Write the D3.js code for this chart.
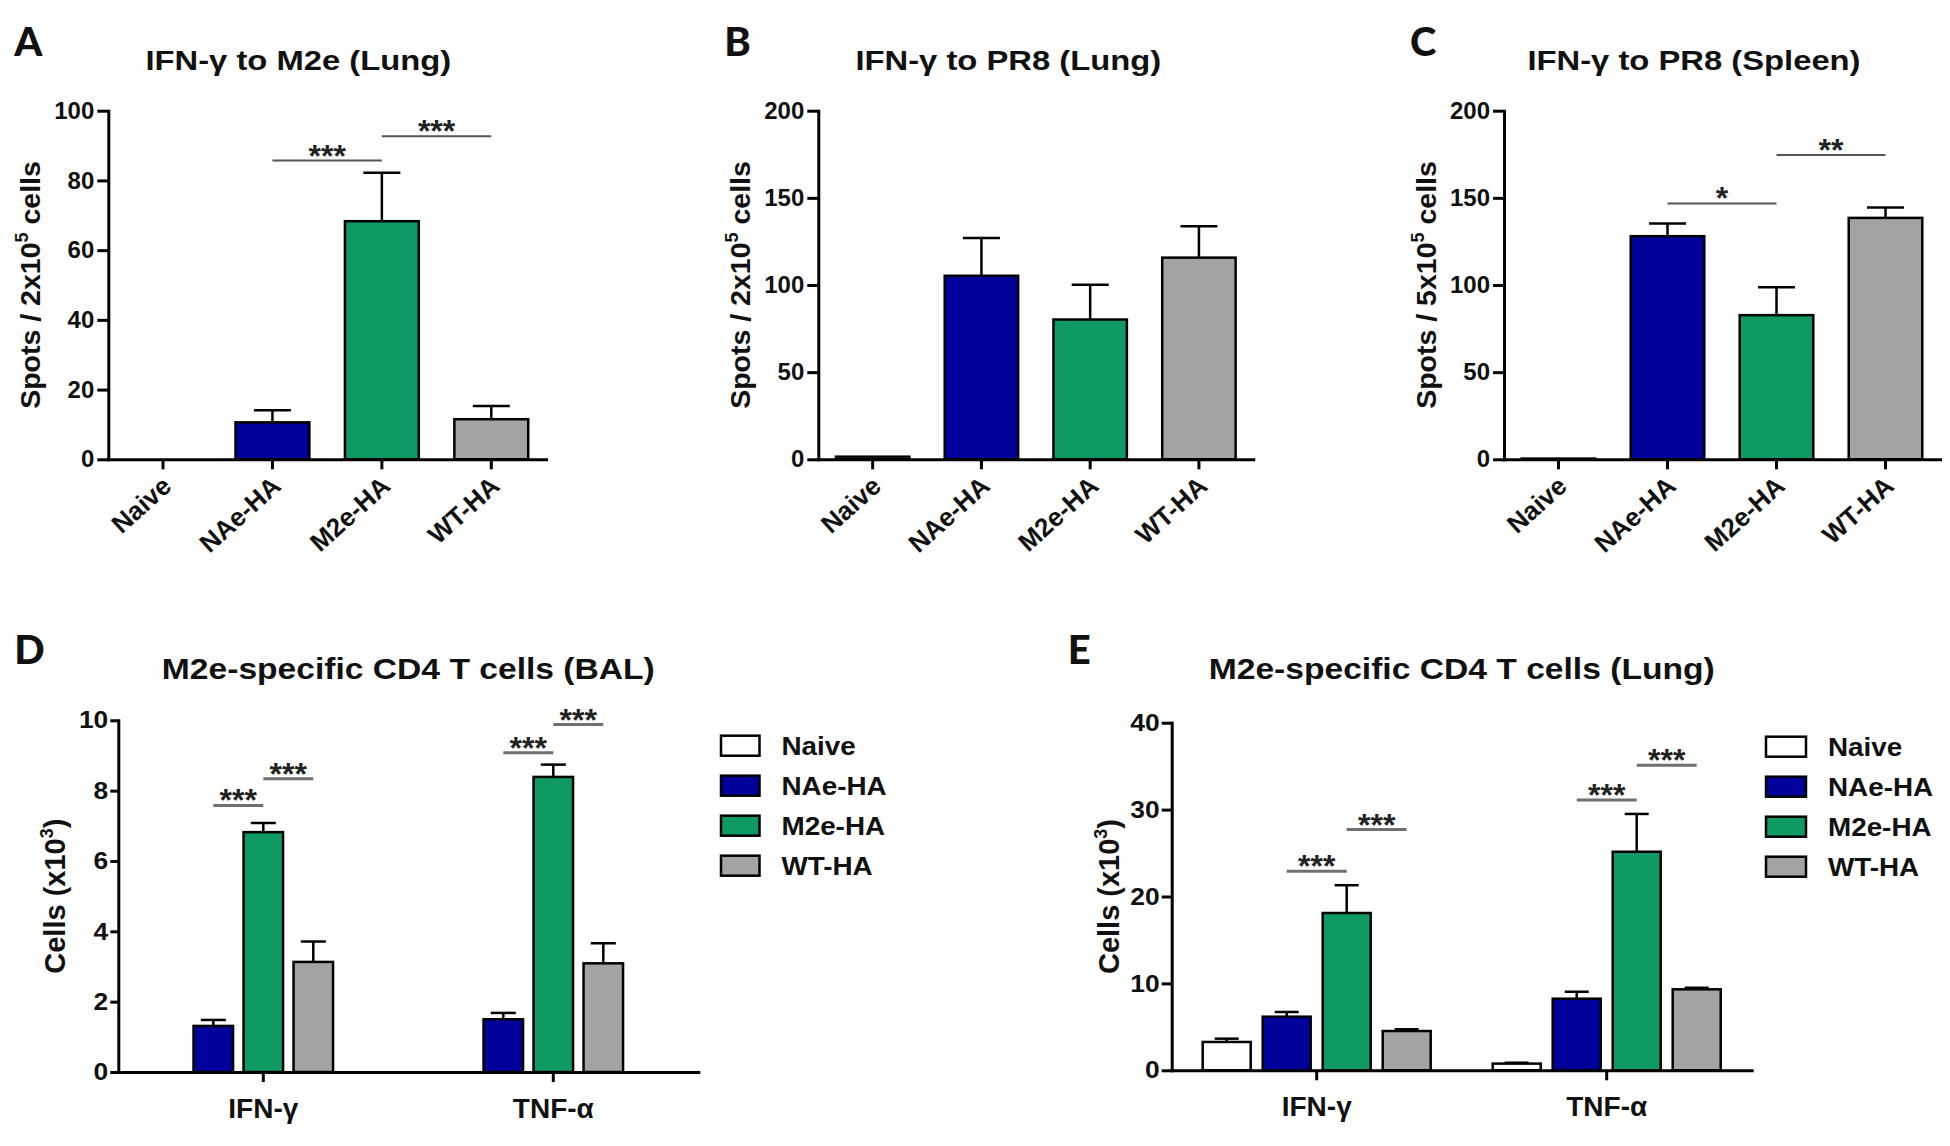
<!DOCTYPE html>
<html>
<head>
<meta charset="utf-8">
<script src="https://cdn.jsdelivr.net/npm/d3@7"></script>
<style>
  body { margin: 0; background: #fff; }
  text { font-family: 'Liberation Sans', Arial, sans-serif; font-weight: bold; fill: #111; }
</style>
</head>
<body>
<svg id="fig"></svg>
<script>
// groups and colours shared by every panel
const groups = ['Naive', 'NAe-HA', 'M2e-HA', 'WT-HA'];
const groupColors = ['#ffffff', '#00009b', '#0f9a63', '#a3a3a6'];
const cytokines = ['IFN-γ', 'TNF-α'];

// A: IFN-g to M2e (Lung)
const aMean = [0, 10.6, 68.3, 11.5];
const aSem = [0, 3.5, 13.9, 3.8];
const aSig = [
  { from: 'NAe-HA', to: 'M2e-HA', level: 85.7, stars: '***' },
  { from: 'M2e-HA', to: 'WT-HA', level: 92.7, stars: '***' }
];

// B: IFN-g to PR8 (Lung)
const bMean = [1.5, 105.3, 80.2, 115.7];
const bSem = [0.6, 21.6, 20.0, 18.0];

// C: IFN-g to PR8 (Spleen)
const cMean = [0.4, 128.0, 82.7, 138.5];
const cSem = [0.2, 7.3, 16.0, 6.0];
const cSig = [
  { from: 'NAe-HA', to: 'M2e-HA', level: 146.8, stars: '*' },
  { from: 'M2e-HA', to: 'WT-HA', level: 174.6, stars: '**' }
];

// D: M2e-specific CD4 T cells (BAL) - no naive bars
const dSeries = ['NAe-HA', 'M2e-HA', 'WT-HA'];
const dMean = [[1.31, 6.82, 3.13], [1.50, 8.39, 3.09]];
const dSem = [[0.17, 0.26, 0.58], [0.18, 0.35, 0.57]];
const dSig = [
  { cyto: 'IFN-γ', from: 'NAe-HA', to: 'M2e-HA', level: 7.58, stars: '***' },
  { cyto: 'IFN-γ', from: 'M2e-HA', to: 'WT-HA', level: 8.34, stars: '***' },
  { cyto: 'TNF-α', from: 'NAe-HA', to: 'M2e-HA', level: 9.08, stars: '***' },
  { cyto: 'TNF-α', from: 'M2e-HA', to: 'WT-HA', level: 9.88, stars: '***' }
];

// E: M2e-specific CD4 T cells (Lung)
const eSeries = ['Naive', 'NAe-HA', 'M2e-HA', 'WT-HA'];
const eMean = [[3.26, 6.17, 18.1, 4.52], [0.77, 8.24, 25.15, 9.32]];
const eSem = [[0.38, 0.54, 3.2, 0.2], [0.1, 0.8, 4.35, 0.18]];
const eSig = [
  { cyto: 'IFN-γ', from: 'NAe-HA', to: 'M2e-HA', level: 22.9, stars: '***' },
  { cyto: 'IFN-γ', from: 'M2e-HA', to: 'WT-HA', level: 27.7, stars: '***' },
  { cyto: 'TNF-α', from: 'NAe-HA', to: 'M2e-HA', level: 31.1, stars: '***' },
  { cyto: 'TNF-α', from: 'M2e-HA', to: 'WT-HA', level: 35.1, stars: '***' }
];

const svg = d3.select('#fig').attr('width', 1950).attr('height', 1146);

// the source figure's lettering is a bit wider than Arial
function stretch(sel, k) {
  sel.each(function () {
    const len = this.getComputedTextLength();
    d3.select(this).attr('textLength', len * k).attr('lengthAdjust', 'spacingAndGlyphs');
  });
}

function panelLetter(letter, x, y) {
  svg.append('text').attr('x', x).attr('y', y)
    .style('font-family', 'Lato, "Open Sans", sans-serif')
    .style('font-weight', 900)
    .style('font-size', '40px').text(letter);
}

function panelTitle(txt, cx, y, size, k) {
  svg.append('text').attr('x', cx).attr('y', y)
    .attr('text-anchor', 'middle').style('font-size', size + 'px')
    .text(txt).call(stretch, k);
}

function yLabel(cx, cy, size, pre, sup, post) {
  const t = svg.append('text')
    .attr('transform', `translate(${cx},${cy}) rotate(-90)`)
    .attr('text-anchor', 'middle').attr('dy', '0.35em')
    .style('font-size', size + 'px');
  t.append('tspan').text(pre);
  t.append('tspan').attr('dy', -12).style('font-size', '18px').text(sup);
  t.append('tspan').attr('dy', 12).text(post);
}

function styleAxis(g) {
  g.select('.domain').attr('stroke', '#000').attr('stroke-width', 3).attr('stroke-linecap', 'square');
  g.selectAll('.tick line').attr('stroke', '#000').attr('stroke-width', 3);
  g.attr('font-family', null).attr('font-size', null);
}

function errorBars(g, rows, xc, y, cap) {
  const eb = g.selectAll('g.err').data(rows).join('g').attr('class', 'err');
  eb.append('line')
    .attr('x1', xc).attr('x2', xc)
    .attr('y1', d => y(d.mean)).attr('y2', d => y(d.mean + d.sem))
    .attr('stroke', '#000').attr('stroke-width', 2.5);
  eb.append('line')
    .attr('x1', d => xc(d) - cap / 2).attr('x2', d => xc(d) + cap / 2)
    .attr('y1', d => y(d.mean + d.sem)).attr('y2', d => y(d.mean + d.sem))
    .attr('stroke', '#000').attr('stroke-width', 2.5);
}

function sigBars(g, list, xa, xb, y, color, width) {
  list.forEach(s => {
    const x1 = xa(s), x2 = xb(s), yy = y(s.level);
    g.append('line').attr('x1', x1).attr('x2', x2).attr('y1', yy).attr('y2', yy)
      .attr('stroke', color).attr('stroke-width', width);
    g.append('text').attr('x', (x1 + x2) / 2).attr('y', yy + 6)
      .attr('text-anchor', 'middle').style('font-size', '32px').style('fill', '#222')
      .text(s.stars);
  });
}

// top row: one bar per group
function simplePanel(o) {
  const g = svg.append('g');
  const x = d3.scaleBand().domain(groups).range([o.x0, o.x1])
    .paddingInner(0.325).paddingOuter(0.1625);
  const y = d3.scaleLinear().domain([0, o.max]).range([o.y0, o.yTop]);
  const rows = groups.map((name, i) => ({ name, mean: o.mean[i], sem: o.sem[i], color: groupColors[i] }));
  const xc = d => x(d.name) + x.bandwidth() / 2;

  g.selectAll('rect.bar').data(rows.filter(d => d.mean > 0)).join('rect')
    .attr('class', 'bar')
    .attr('x', d => x(d.name)).attr('width', x.bandwidth())
    .attr('y', d => y(d.mean)).attr('height', d => y(0) - y(d.mean))
    .attr('fill', d => d.color).attr('stroke', '#000').attr('stroke-width', 2.5);
  errorBars(g, rows.filter(d => d.sem > 0 && d.mean > 2), xc, y, 37);

  const yAxis = g.append('g').attr('transform', `translate(${o.x0},0)`)
    .call(d3.axisLeft(y).tickValues(d3.range(0, o.max + 1, o.step)).tickSize(11).tickPadding(3).tickSizeOuter(0));
  styleAxis(yAxis);
  yAxis.selectAll('.tick text').style('font-size', '24px');

  const xAxis = g.append('g').attr('transform', `translate(0,${o.y0})`)
    .call(d3.axisBottom(x).tickSize(10).tickSizeOuter(0));
  styleAxis(xAxis);
  xAxis.selectAll('.tick text')
    .attr('x', 0).attr('y', 0).attr('dy', 0)
    .attr('transform', 'translate(10,29) rotate(-42)')
    .attr('text-anchor', 'end').style('font-size', '26px');

  if (o.sig) {
    sigBars(g, o.sig, s => x(s.from) + x.bandwidth() / 2, s => x(s.to) + x.bandwidth() / 2, y, '#555', 2);
  }
  panelTitle(o.title, o.x0 + 190, 70, 28, 1.17);
  panelLetter(o.letter, o.x0 - 94, 56);
  yLabel(o.x0 - 78, (o.y0 + o.yTop) / 2, 28.5, o.yPre, o.ySup, o.yPost);
}

// bottom row: bars grouped by cytokine
function groupedPanel(o) {
  const g = svg.append('g');
  const outer = d3.scaleBand().domain(cytokines).range([o.x0, o.x1]).padding(0);
  const n = o.series.length;
  const pad = 1 - o.barW / o.barStep;
  const inner = d3.scaleBand().domain(o.series)
    .range([-n * o.barStep / 2, n * o.barStep / 2]).paddingInner(pad).paddingOuter(pad / 2);
  const y = d3.scaleLinear().domain([0, o.max]).range([o.y0, o.yTop]);
  const centre = (c, s) => outer(c) + outer.bandwidth() / 2 + inner(s) + inner.bandwidth() / 2;
  const rows = cytokines.flatMap((c, ci) => o.series.map((s, si) => ({
    cyto: c, name: s, mean: o.mean[ci][si], sem: o.sem[ci][si], color: groupColors[groups.indexOf(s)]
  })));

  g.selectAll('rect.bar').data(rows).join('rect')
    .attr('class', 'bar')
    .attr('x', d => centre(d.cyto, d.name) - inner.bandwidth() / 2).attr('width', inner.bandwidth())
    .attr('y', d => y(d.mean)).attr('height', d => y(0) - y(d.mean))
    .attr('fill', d => d.color).attr('stroke', '#000').attr('stroke-width', 2.5);
  errorBars(g, rows, d => centre(d.cyto, d.name), y, o.cap);

  const yAxis = g.append('g').attr('transform', `translate(${o.x0},0)`)
    .call(d3.axisLeft(y).tickValues(d3.range(0, o.max + 1, o.step)).tickSize(o.tick).tickPadding(2).tickSizeOuter(0));
  styleAxis(yAxis);
  yAxis.selectAll('.tick text').style('font-size', '24px').call(stretch, 1.1);

  const xAxis = g.append('g').attr('transform', `translate(0,${o.y0})`)
    .call(d3.axisBottom(outer).tickSize(10).tickSizeOuter(0));
  styleAxis(xAxis);
  xAxis.selectAll('.tick text').attr('y', 46).attr('dy', 0).style('font-size', '28px');

  sigBars(g, o.sig, s => centre(s.cyto, s.from), s => centre(s.cyto, s.to), y, '#707070', 3);

  // legend lists every group, even when a series is not drawn
  const lg = g.selectAll('g.legend').data(groups).join('g').attr('class', 'legend')
    .attr('transform', (d, i) => `translate(${o.legX},${o.legY + i * 40})`);
  lg.append('rect').attr('x', 0).attr('y', -10).attr('width', o.legW).attr('height', 20)
    .attr('fill', (d, i) => groupColors[i]).attr('stroke', '#000').attr('stroke-width', 2.5);
  lg.append('text').attr('x', o.legW + 22).attr('y', 9).style('font-size', '26px')
    .text(d => d).call(stretch, 1.07);

  panelTitle(o.title, o.x0 + 290, 679, 30, 1.12);
  panelLetter(o.letter, o.x0 - 104, 664);
  yLabel(o.x0 - 63, (o.y0 + o.yTop) / 2, 29, 'Cells (x10', '3', ')');
}

simplePanel({
  letter: 'A', title: 'IFN-γ to M2e (Lung)', mean: aMean, sem: aSem, sig: aSig,
  x0: 108.3, x1: 546, yTop: 110.7, y0: 459.3, max: 100, step: 20,
  yPre: 'Spots / 2x10', ySup: '5', yPost: ' cells'
});
simplePanel({
  letter: 'B', title: 'IFN-γ to PR8 (Lung)', mean: bMean, sem: bSem,
  x0: 818.3, x1: 1253.3, yTop: 110.7, y0: 459.3, max: 200, step: 50,
  yPre: 'Spots / 2x10', ySup: '5', yPost: ' cells'
});
simplePanel({
  letter: 'C', title: 'IFN-γ to PR8 (Spleen)', mean: cMean, sem: cSem, sig: cSig,
  x0: 1504, x1: 1940, yTop: 110.7, y0: 459.3, max: 200, step: 50,
  yPre: 'Spots / 5x10', ySup: '5', yPost: ' cells'
});
groupedPanel({
  letter: 'D', title: 'M2e-specific CD4 T cells (BAL)', series: dSeries, mean: dMean, sem: dSem, sig: dSig,
  x0: 118.3, x1: 698.3, yTop: 720.3, y0: 1072, max: 10, step: 2, tick: 8,
  barStep: 50, barW: 39.5, cap: 25, legX: 721, legY: 745.7, legW: 38.5
});
groupedPanel({
  letter: 'E', title: 'M2e-specific CD4 T cells (Lung)', series: eSeries, mean: eMean, sem: eSem, sig: eSig,
  x0: 1171.7, x1: 1751.7, yTop: 722.7, y0: 1070.3, max: 40, step: 10, tick: 10,
  barStep: 60, barW: 48, cap: 24, legX: 1766, legY: 746.7, legW: 40
});
</script>
</body>
</html>
